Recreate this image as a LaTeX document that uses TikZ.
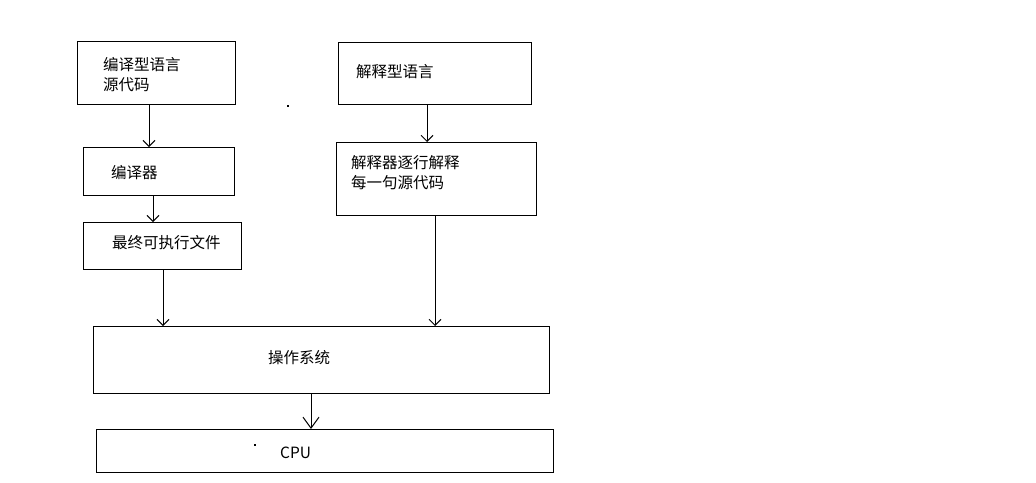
\documentclass[tikz,border=0pt]{standalone}
\usepackage{fontspec}
\setmainfont{Noto Sans CJK SC}
\usetikzlibrary{arrows.meta}
\begin{document}
\begin{tikzpicture}[x=1pt,y=-1pt,
  box/.style={draw=black,line width=1pt,inner sep=0pt,anchor=north west},
  lbl/.style={inner sep=0pt,anchor=west,align=left,font=\fontsize{15.5}{20}\selectfont},
  arr/.style={draw=black,line width=1pt,-{Straight Barb[length=6pt,width=12pt,line width=1pt]}},
  arrbig/.style={draw=black,line width=1pt,-{Straight Barb[length=11pt,width=16pt,line width=1pt]}}]
\useasboundingbox (0,0) rectangle (1036,482);
\fill[white] (0,0) rectangle (1036,482);
% boxes
\node[box,minimum width=158pt,minimum height=63pt] (a) at (77,41) {};
\node[box,minimum width=151pt,minimum height=48pt] (b) at (83,147) {};
\node[box,minimum width=158pt,minimum height=47pt] (c) at (83,222) {};
\node[box,minimum width=193pt,minimum height=62pt] (d) at (338,42) {};
\node[box,minimum width=200pt,minimum height=73pt] (e) at (336,142) {};
\node[box,minimum width=456pt,minimum height=67pt] (f) at (93,326) {};
\node[box,minimum width=457pt,minimum height=43pt] (g) at (96,429) {};
% texts
\node[lbl] (ta) at (103,75) {编译型语言\\源代码};
\node[lbl] (tb) at (111,173) {编译器};
\node[lbl] (tc) at (112,243) {最终可执行文件};
\node[lbl] (td) at (356,72) {解释型语言};
\node[lbl] (te) at (351,173) {解释器逐行解释\\每一句源代码};
\node[lbl] (tf) at (268,358) {操作系统};
\node[lbl] (tg) at (280,453) {CPU};
% dots
\fill (287,105) rectangle (289,107);
\fill (254,444) rectangle (256,446);
% arrows
\draw[arr] (a.south -| 149,0) -- (b.north -| 149,0);
\draw[arr] (b.south -| 153,0) -- (c.north -| 153,0);
\draw[arr] (c.south -| 163,0) -- (f.north -| 163,0);
\draw[arr] (d.south -| 427,0) -- (e.north -| 427,0);
\draw[arr] (e.south -| 435,0) -- (f.north -| 435,0);
\draw[arrbig] (f.south -| 311,0) -- (g.north -| 311,0);
\end{tikzpicture}
\end{document}
